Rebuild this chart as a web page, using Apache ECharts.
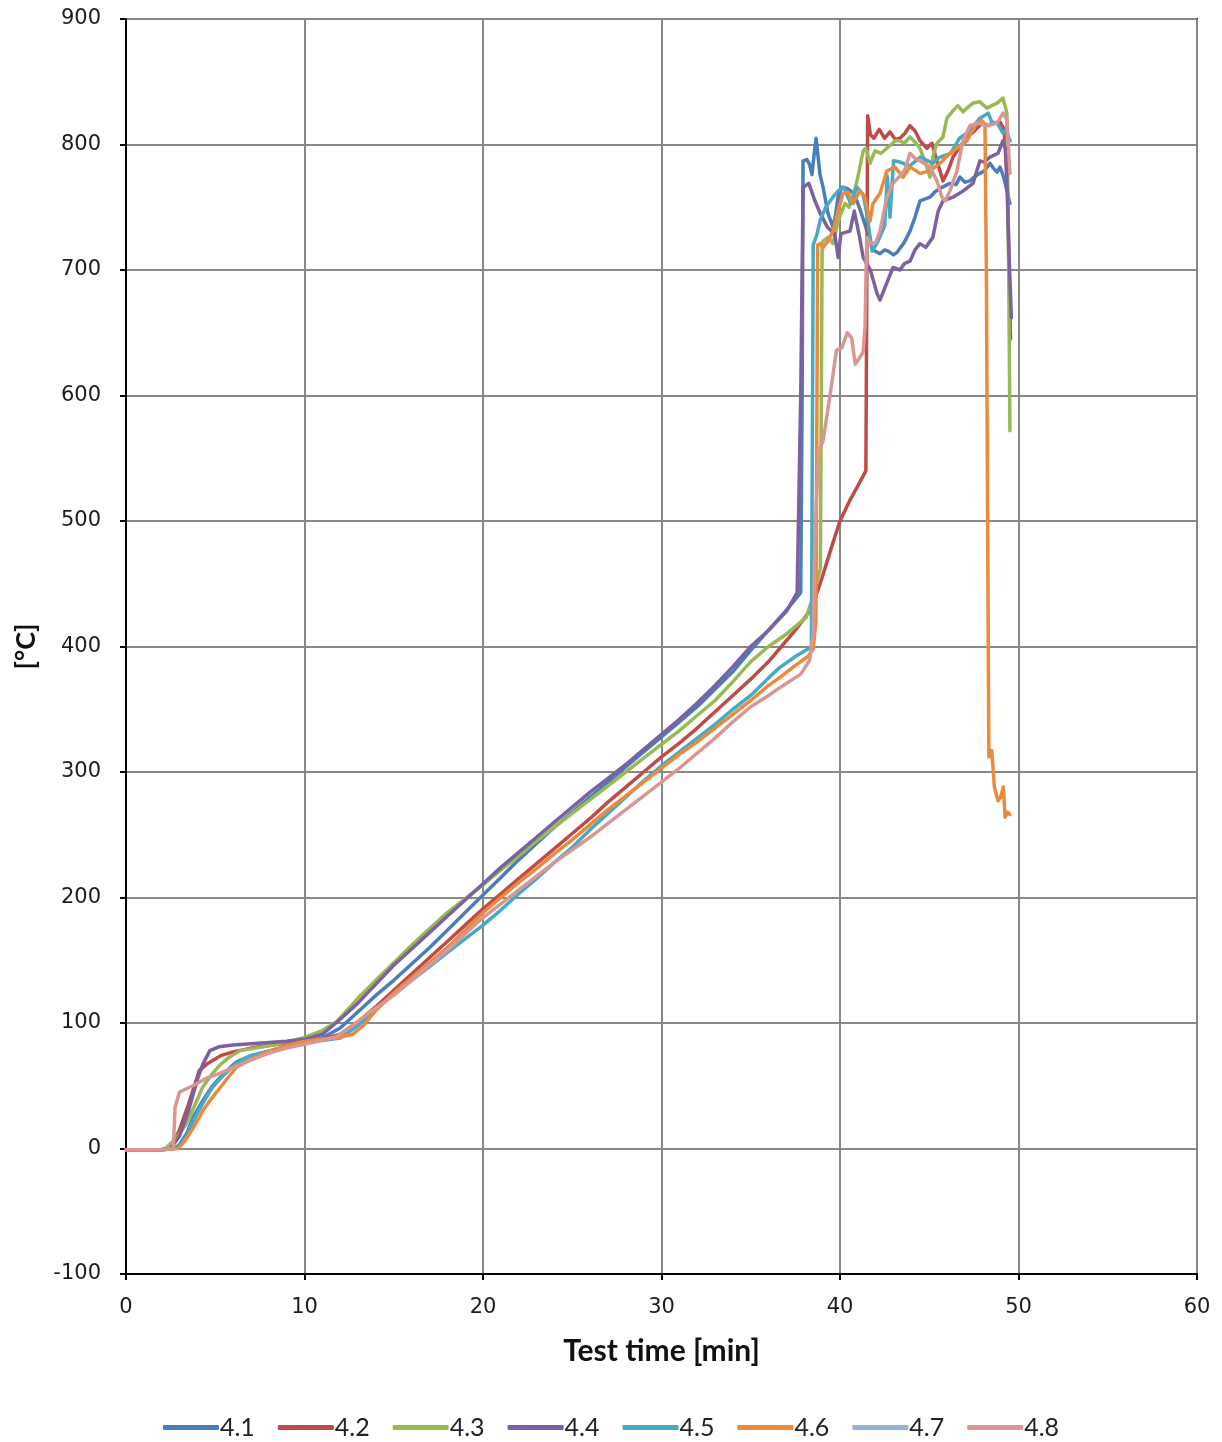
<!DOCTYPE html>
<html>
<head>
<meta charset="utf-8">
<script src="https://cdn.jsdelivr.net/npm/echarts@6/dist/echarts.min.js"></script>
<style>
  html, body { margin: 0; padding: 0; background: #fff; }
  #chart { width: 1222px; height: 1442px; }
</style>
</head>
<body>
<div id="chart"></div>
<script>
// Furnace test: temperature [°C] over test time [min], samples 4.1 – 4.8
const seriesNames = ['4.1', '4.2', '4.3', '4.4', '4.5', '4.6', '4.7', '4.8'];
const xTicks = { min: 0, max: 60, step: 10 };
const yTicks = { min: -100, max: 900, step: 100 };

const s41 = [[0,-1],[1,-1],[2,-1],[2.7,0],[3,3],[3.4,12],[3.8,26],[4.3,38],[4.8,49],[5.3,57],[5.8,64],[6.2,69],[7,74],[8.1,78],[9,81],[9.9,84],[11,88],[12,96],[13,109],[14,122],[15,134],[16,147],[17,160],[18,174],[19,188],[20,202],[21,216],[22,230],[23,243],[24,256],[25,268],[26,280],[27,292],[28,304],[29,316],[30,328],[31,340],[32,352],[33,366],[34,380],[35,397],[36,413],[37,429],[37.8,443],[37.88,600],[37.93,787],[38.15,788],[38.3,784],[38.43,776],[38.55,792],[38.66,805],[38.88,776],[39.05,766],[39.33,745],[39.61,734],[39.75,744],[39.89,758],[40.1,766],[40.39,765],[40.7,762],[40.95,755],[41.2,745],[41.51,731],[41.85,716],[42.24,713],[42.5,716],[42.7,715],[43.0,712],[43.19,714],[43.6,722],[43.92,731],[44.2,742],[44.48,755],[45.04,758],[45.3,762],[45.6,765],[46.16,769],[46.5,768],[46.72,774],[47.0,770],[47.28,771],[47.6,775],[47.84,777],[48.1,779],[48.4,785],[48.6,781],[48.8,778],[48.96,782],[49.1,777],[49.24,770],[49.4,760],[49.52,753]];

const s42 = [[0,-1],[1,-1],[2,-1],[2.3,0],[2.7,6],[3,15],[3.5,35],[4.1,62],[4.6,68],[5.3,74],[6,77],[7,80],[8,82],[9,84],[10,85],[11,87],[12,91],[13,101],[14,113],[15,126],[16,139],[17,152],[18,165],[19,178],[20,191],[21,203],[22,215],[23,227],[24,239],[25,251],[26,263],[27,276],[28,288],[29,300],[30,312],[31,323],[32,335],[33,348],[34,361],[35,374],[36,388],[36.6,398],[37.5,413],[38.4,430],[39,455],[39.5,478],[40,500],[40.5,515],[41,528],[41.3,536],[41.45,540],[41.55,823],[41.7,808],[41.9,805],[42.2,812],[42.5,805],[42.8,810],[43.1,804],[43.36,805],[43.64,809],[43.92,815],[44.2,811],[44.48,803],[44.87,797],[45.15,801],[45.43,787],[45.77,771],[46.05,779],[46.33,790],[46.72,798],[47.11,806],[47.4,809],[47.67,813],[48.0,817],[48.3,815],[48.57,817],[48.96,818],[49.2,812],[49.4,760],[49.55,645]];

const s43 = [[0,-1],[1,-1],[2,-1],[2.2,0],[2.8,8],[3.4,20],[3.9,36],[4.3,49],[4.8,59],[5.3,67],[5.8,73],[6.4,78],[7.2,80],[8.1,82],[9,85],[9.9,88],[11,94],[11.8,101],[12.7,115],[13,120],[14,134],[15,148],[16,162],[17,175],[18,188],[19,199],[20,210],[21,222],[22,233],[23,245],[24,256],[25,267],[26,278],[27,289],[28,300],[29,311],[30,322],[31,333],[32,345],[33,357],[34,372],[35,388],[36,400],[37,410],[38.1,423],[38.5,440],[38.9,462],[39.0,720],[39.05,723],[39.33,726],[39.61,721],[39.89,739],[40.28,753],[40.5,750],[40.73,758],[41.0,774],[41.3,795],[41.45,797],[41.68,785],[41.96,795],[42.3,793],[42.7,798],[43.1,803],[43.36,803],[43.6,801],[43.92,806],[44.2,802],[44.48,797],[44.8,785],[45.04,774],[45.2,790],[45.43,801],[45.77,806],[45.99,821],[46.33,827],[46.6,831],[46.9,826],[47.11,829],[47.45,833],[47.84,834],[48.23,829],[48.5,831],[48.8,833],[49.13,837],[49.35,825],[49.45,700],[49.52,572]];

const s44 = [[0,-1],[1,-1],[2,-1],[2.5,0],[3,10],[3.5,30],[4,55],[4.3,67],[4.7,78],[5.2,81],[6,82.5],[7,83.5],[8,84.5],[9,85.5],[10,87],[11,91],[12,103],[13,116],[14,131],[15,146],[16,159],[17,172],[18,185],[19,198],[20,211],[21,224],[22,236],[23,248],[24,260],[25,272],[26,284],[27,295],[28,306],[29,318],[30,330],[31,342],[32,355],[33,369],[34,384],[35,400],[36,413],[37,428],[37.6,443],[37.8,600],[37.93,766],[38.25,769],[38.6,755],[38.9,745],[39.3,734],[39.7,729],[39.9,710],[40.05,729],[40.56,731],[40.8,747],[41.1,726],[41.3,710],[41.7,700],[42.08,681],[42.24,676],[42.6,689],[42.97,702],[43.36,700],[43.6,705],[43.92,707],[44.2,716],[44.48,721],[44.8,718],[45.2,726],[45.5,747],[45.77,755],[46.33,758],[46.9,763],[47.45,769],[47.84,787],[48.1,786],[48.4,790],[48.85,793],[49.13,803],[49.3,795],[49.45,720],[49.6,662]];

const s45 = [[0,-1],[1,-1],[2,-1],[2.7,0],[3,2],[3.4,10],[3.8,23],[4.3,36],[4.8,48],[5.3,56],[5.8,63],[6.2,68],[7,74],[8.1,78],[9,81],[9.9,84],[11,86],[12,88],[13,98],[14,111],[15,123],[16,134],[17,145],[18,156],[19,167],[20,178],[21,190],[22,203],[23,215],[24,228],[25,240],[26,254],[27,267],[28,280],[29,293],[30,305],[31,316],[32,327],[33,338],[34,350],[35,361],[36,375],[36.6,383],[37.5,392],[38.2,398],[38.4,400],[38.5,720],[38.7,728],[38.9,740],[39.2,750],[39.6,758],[39.9,763],[40.2,766],[40.6,753],[40.95,766],[41.3,760],[41.5,745],[41.8,715],[42.1,722],[42.5,735],[42.65,775],[42.8,742],[43.0,787],[43.36,786],[43.9,783],[44.5,790],[45.2,785],[45.6,790],[46.2,793],[46.7,805],[47.1,809],[47.5,815],[47.84,821],[48.3,825],[48.5,818],[48.8,817],[49.13,809],[49.3,812],[49.52,803]];

const s46 = [[0,-1],[1,-1],[2,-1],[2.9,0],[3.3,6],[3.8,17],[4.3,30],[4.8,40],[5.3,49],[5.8,58],[6.2,65],[7,71],[8.1,78],[9,82],[9.9,85],[10.8,87],[11.8,88],[12.7,91],[13.3,98],[14,110],[15,124],[16,136],[17,148],[18,160],[19,174],[20,188],[21,200],[22,212],[23,223],[24,235],[25,246],[26,258],[27,270],[28,281],[29,292],[30,303],[31,314],[32,324],[33,335],[34,346],[35,357],[36,369],[36.6,375],[37.5,385],[38.2,392],[38.5,398],[38.65,420],[38.75,720],[38.9,721],[39.05,718],[39.33,723],[39.61,731],[39.89,747],[40.17,761],[40.45,762],[40.73,753],[41.1,763],[41.4,758],[41.68,739],[41.85,753],[42.24,761],[42.63,779],[43.08,782],[43.53,774],[43.92,782],[44.48,777],[45.04,779],[45.6,785],[46.16,793],[46.55,797],[47.11,803],[47.67,817],[47.95,819],[48.12,816],[48.2,700],[48.27,500],[48.34,312],[48.5,317],[48.65,288],[48.85,277],[49.0,280],[49.15,288],[49.25,264],[49.4,268],[49.52,266]];

const s47 = [];

const s48 = [[0,-1],[1,-1],[2,-1],[2.65,0],[2.75,33],[3.0,45],[3.75,50],[4.5,56],[5.3,60],[6.2,66],[7.1,71],[8,76],[9,80],[10,83],[10.9,86],[11.8,89],[12.7,98],[13.6,108],[14.6,118],[15,122],[16,134],[17,146],[18,158],[19,171],[20,184],[21,195],[22,206],[23,217],[24,228],[25,238],[26,248],[27,259],[28,270],[29,281],[30,292],[31,303],[32,315],[33,327],[34,340],[35,352],[36,361],[36.6,367],[37.8,378],[38.3,389],[38.5,410],[38.6,490],[38.8,556],[39.05,564],[39.4,596],[39.8,636],[40.1,638],[40.4,650],[40.65,646],[40.85,625],[41.1,630],[41.3,635],[41.4,654],[41.5,726],[41.68,721],[42.0,722],[42.24,731],[42.63,758],[42.97,769],[43.36,775],[43.64,780],[43.92,793],[44.2,789],[44.48,787],[45.04,782],[45.43,771],[45.71,758],[45.88,755],[46.16,763],[46.55,779],[46.89,803],[47.28,815],[47.67,817],[48.23,815],[48.8,817],[49.13,825],[49.35,820],[49.52,777]];

const seriesData = [s41, s42, s43, s44, s45, s46, s47, s48];
const colors = ['#4A7EBB', '#BE4B48', '#98B954', '#7D60A0', '#46AAC5', '#EC8A3C', '#95B3D7', '#DA9694'];

const chart = echarts.init(document.getElementById('chart'), null, { renderer: 'canvas' });

chart.setOption({
  animation: false,
  backgroundColor: '#ffffff',
  color: colors,
  grid: {
    left: 126, right: 25, top: 19, bottom: 168,
    show: true, borderColor: '#000', borderWidth: 2, backgroundColor: 'transparent'
  },
  legend: {
    bottom: -3,
    left: 'center',
    icon: 'roundRect',
    itemWidth: 56,
    itemHeight: 5,
    itemGap: 23,
    textStyle: { fontFamily: 'Lato', fontSize: 25, color: '#222', padding: [0, 0, 0, -4] },
    data: seriesNames
  },
  xAxis: {
    type: 'value',
    min: xTicks.min, max: xTicks.max, interval: xTicks.step,
    name: 'Test time [min]',
    nameLocation: 'middle',
    nameGap: 62,
    nameTextStyle: { fontFamily: 'Lato', fontWeight: 'bold', fontSize: 30, color: '#111' },
    axisLine: { onZero: false, lineStyle: { color: '#000', width: 2 } },
    axisTick: { show: true, length: 6, lineStyle: { color: '#000', width: 2 } },
    axisLabel: { margin: 23, fontFamily: 'DejaVu Sans', fontSize: 21, color: '#1c1c1c' },
    splitLine: { show: true, lineStyle: { color: '#888', width: 2 } }
  },
  yAxis: {
    type: 'value',
    min: yTicks.min, max: yTicks.max, interval: yTicks.step,
    name: '[°C]',
    nameLocation: 'middle',
    nameGap: 86,
    nameRotate: 90,
    nameTextStyle: { fontFamily: 'Lato', fontWeight: 'bold', fontSize: 27, color: '#111' },
    axisLine: { onZero: false, lineStyle: { color: '#000', width: 2 } },
    axisTick: { show: true, length: 6, lineStyle: { color: '#000', width: 2 } },
    axisLabel: { margin: 25, fontFamily: 'DejaVu Sans', fontSize: 21, color: '#1c1c1c' },
    splitLine: { show: true, lineStyle: { color: '#888', width: 2 } }
  },
  series: seriesNames.map((name, i) => ({
    name: name,
    type: 'line',
    data: seriesData[i],
    showSymbol: false,
    symbol: 'none',
    smooth: false,
    lineStyle: { width: 3.5, color: colors[i], cap: 'round', join: 'round' },
    itemStyle: { color: colors[i] },
    emphasis: { disabled: true }
  }))
});
</script>
</body>
</html>
